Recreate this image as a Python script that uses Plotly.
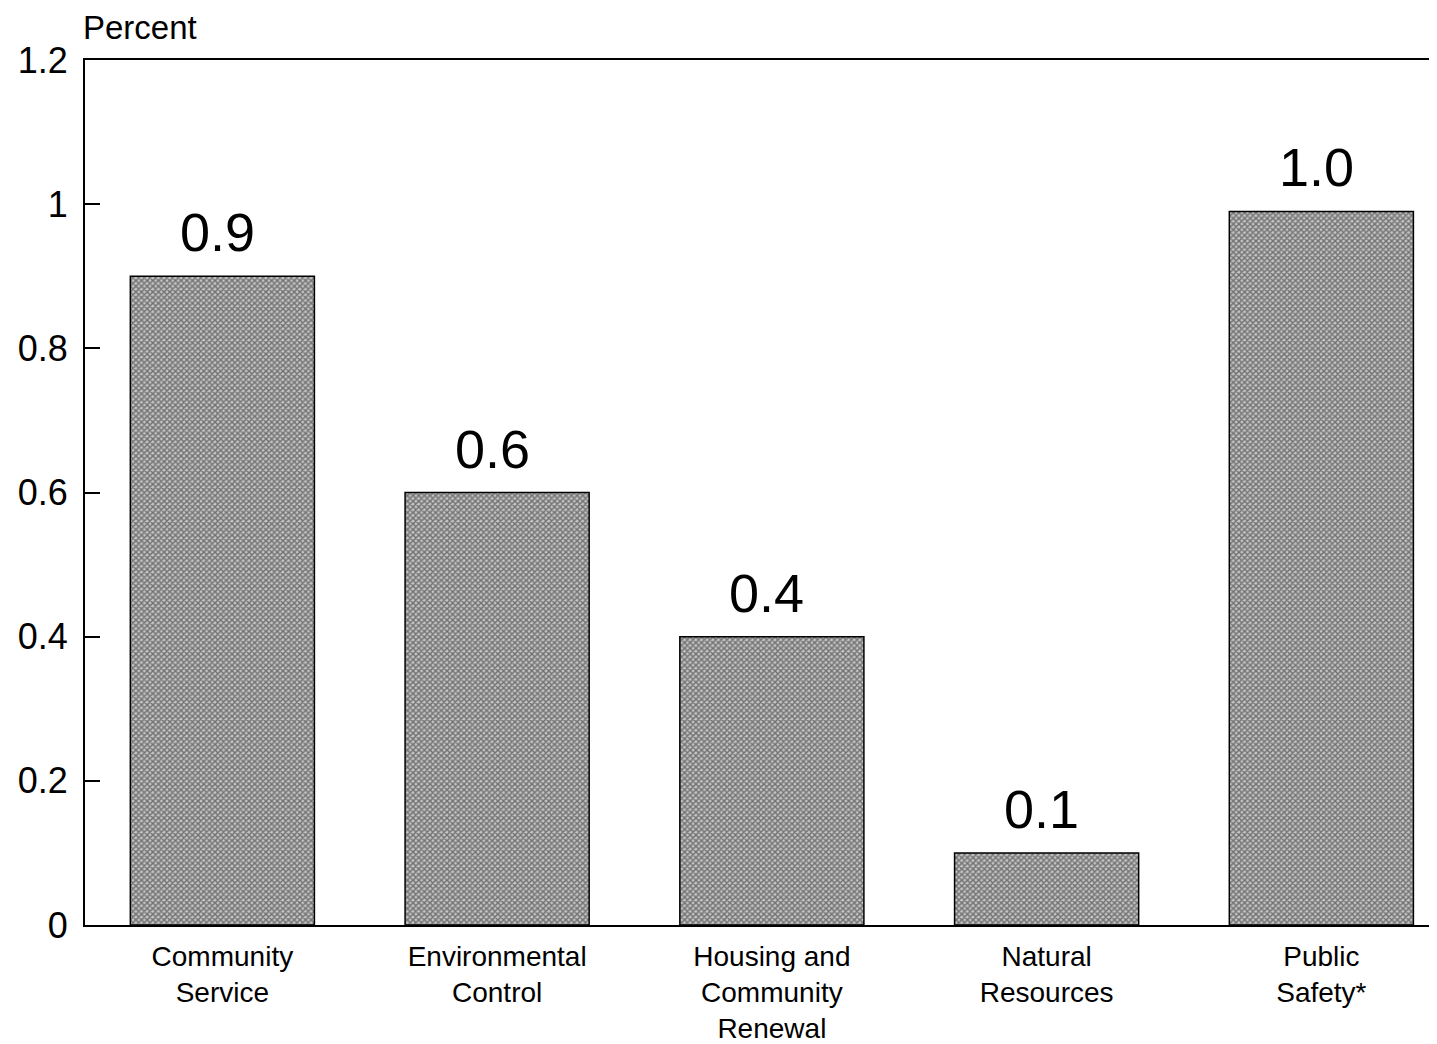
import plotly.graph_objects as go

categories = ["Community<br>Service", "Environmental<br>Control", "Housing and<br>Community<br>Renewal",
              "Natural<br>Resources", "Public<br>Safety*"]
values = [0.9, 0.6, 0.4, 0.1, 0.99]
value_labels = ["0.9", "0.6", "0.4", "0.1", "1.0"]
y_ticks = [0, 0.2, 0.4, 0.6, 0.8, 1, 1.2]
y_tick_labels = ["0", "0.2", "0.4", "0.6", "0.8", "1", "1.2"]

FONT = "Liberation Sans, Arial, sans-serif"

fig = go.Figure()
fig.add_trace(go.Bar(
    x=categories, y=values, width=0.67,
    marker=dict(color="#a0a0a0",
                line=dict(color="black", width=1.5),
                pattern=dict(shape="x", size=4, solidity=0.6, fgcolor="#1e1e1e", bgcolor="#c4c4c4")),
    hoverinfo="skip",
))

for c, v, t in zip(categories, values, value_labels):
    fig.add_annotation(x=c, y=v, text=t, showarrow=False, xanchor="center", yanchor="bottom",
                       yshift=12, xshift=-5, font=dict(family=FONT, size=54, color="black"))

fig.add_annotation(xref="paper", yref="paper", x=0, y=1, xanchor="left", yanchor="bottom",
                   xshift=-4, yshift=12, text="Percent", showarrow=False,
                   font=dict(family=FONT, size=33, color="black"))

fig.update_layout(
    width=1437, height=1044,
    margin=dict(l=77, r=0, t=52, b=127),
    paper_bgcolor="white", plot_bgcolor="white",
    showlegend=False,
)
fig.update_xaxes(range=[-0.5, 4.45], showline=True, linecolor="black", linewidth=2, mirror=True,
                 ticks="", showgrid=False, ticklabelstandoff=5,
                 tickfont=dict(family=FONT, size=28, color="black"))
fig.update_yaxes(range=[0, 1.2], tickvals=y_ticks, ticktext=y_tick_labels, showline=True,
                 linecolor="black", linewidth=2, ticks="inside", ticklen=15, tickwidth=1.5,
                 tickcolor="black", showgrid=False, zeroline=False, ticklabelstandoff=8,
                 tickfont=dict(family=FONT, size=36, color="black"))

fig.write_html("out.html")
